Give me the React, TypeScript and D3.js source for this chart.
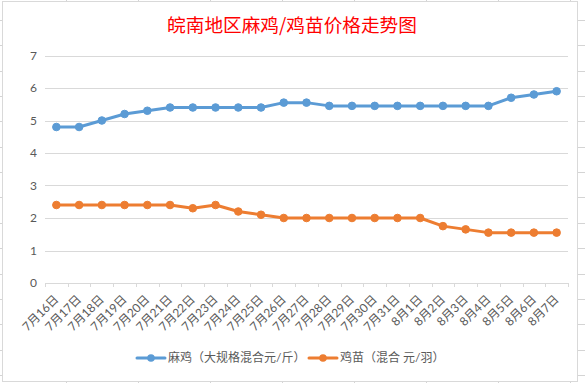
import React from 'react';
import * as d3 from 'd3';

const categories = ['7月16日','7月17日','7月18日','7月19日','7月20日','7月21日','7月22日','7月23日','7月24日','7月25日','7月26日','7月27日','7月28日','7月29日','7月30日','7月31日','8月1日','8月2日','8月3日','8月4日','8月5日','8月6日','8月7日'];
const maJiValues = [4.8,4.8,5.0,5.2,5.3,5.4,5.4,5.4,5.4,5.4,5.55,5.55,5.45,5.45,5.45,5.45,5.45,5.45,5.45,5.45,5.7,5.8,5.9];
const jiMiaoValues = [2.4,2.4,2.4,2.4,2.4,2.4,2.3,2.4,2.2,2.1,2.0,2.0,2.0,2.0,2.0,2.0,2.0,1.75,1.65,1.55,1.55,1.55,1.55];
const yTicks = [0,1,2,3,4,5,6,7];
const seriesNames = ['麻鸡（大规格混合元/斤）','鸡苗（混合 元/羽）'];
const title = '皖南地区麻鸡/鸡苗价格走势图';

const W = 585, H = 383;
const FONT = "Lato, 'Noto Sans CJK SC', sans-serif";
const BLUE = '#5B9BD5';
const ORANGE = '#ED7D31';

export default function App() {
  const x = d3.scaleBand<string>().domain(categories).range([45, 568]);
  const y = d3.scaleLinear().domain([0, 7]).range([283, 55.5]);
  const cx = (c: string) => (x(c) as number) + x.bandwidth() / 2;
  const line = d3.line<number>().x((_, i) => cx(categories[i])).y(d => y(d));

  const colLines = d3.range(-6, 585, 72).map(v => v);
  const rowLines = d3.range(0, 15).map(k => 20 + 25.35 * k);
  const boundaries = [...categories.map(c => x(c) as number), 568];

  const series = [
    { name: seriesNames[0], values: maJiValues, color: BLUE },
    { name: seriesNames[1], values: jiMiaoValues, color: ORANGE },
  ];

  return (
    <svg width={W} height={H} style={{ position: 'absolute', left: 0, top: 0, display: 'block' }} fontFamily={FONT}>
      <rect x={0} y={0} width={W} height={H} fill="#fff" />
      {colLines.map((v, i) => (
        <line key={'c' + i} x1={v + 0.5} x2={v + 0.5} y1={0} y2={H} stroke="#D4D4D4" />
      ))}
      {rowLines.map((v, i) => (
        <line key={'r' + i} x1={0} x2={W} y1={Math.round(v) + 0.5} y2={Math.round(v) + 0.5} stroke="#D4D4D4" />
      ))}
      <rect x={2.5} y={1.5} width={575} height={380} fill="#fff" stroke="#D9D9D9" />

      <text x={292} y={32} textAnchor="middle" fill="#FF0000" fontSize={18.67} fontFamily="'Noto Sans CJK SC', sans-serif">{title}</text>

      {yTicks.map(t => (
        <g key={t}>
          <line x1={45} x2={568} y1={Math.round(y(t)) + 0.5} y2={Math.round(y(t)) + 0.5} stroke="#D9D9D9" />
          <text x={37} y={y(t)} dy="0.35em" textAnchor="end" fill="#595959" fontSize={12}>{t}</text>
        </g>
      ))}
      {boundaries.map((b, i) => (
        <line key={'t' + i} x1={Math.round(b) + 0.5} x2={Math.round(b) + 0.5} y1={283} y2={287} stroke="#D9D9D9" />
      ))}
      {categories.map(c => (
        <text key={c} transform={`translate(${cx(c)},297) rotate(-45)`} dy="0.35em" textAnchor="end" fill="#595959" fontSize={12}>{c}</text>
      ))}

      {series.map(s => (
        <g key={s.name}>
          <path d={line(s.values) || ''} fill="none" stroke={s.color} strokeWidth={3} strokeLinejoin="round" strokeLinecap="round" />
          {s.values.map((v, i) => (
            <circle key={i} cx={cx(categories[i])} cy={y(v)} r={3.8} fill={s.color} stroke={s.color} strokeWidth={1} />
          ))}
        </g>
      ))}

      {series.map((s, i) => {
        const lx = i === 0 ? 137 : 309;
        return (
          <g key={'l' + i}>
            <line x1={lx} x2={lx + 28} y1={358} y2={358} stroke={s.color} strokeWidth={3} strokeLinecap="round" />
            <circle cx={lx + 14} cy={358} r={3.8} fill={s.color} />
            <text x={lx + 31} y={358} dy="0.35em" fill="#595959" fontSize={12}>{s.name}</text>
          </g>
        );
      })}
    </svg>
  );
}
